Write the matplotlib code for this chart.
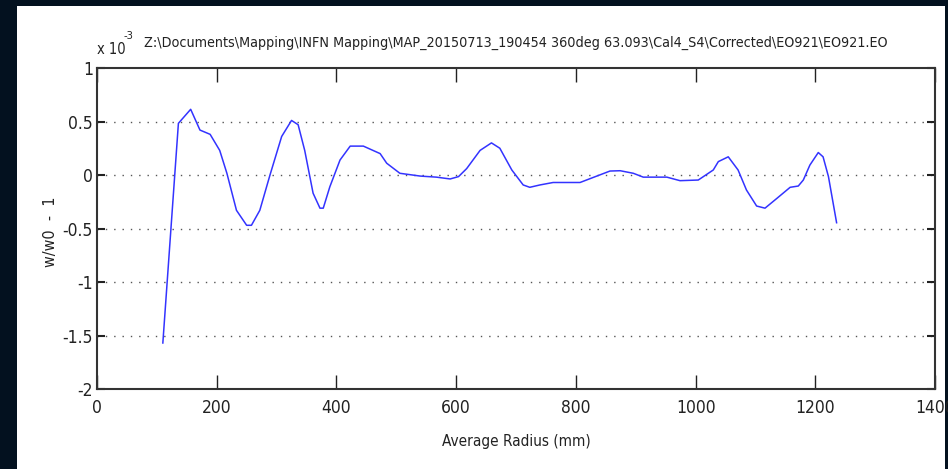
import numpy as np
import matplotlib.pyplot as plt
from matplotlib.patches import Rectangle

# radius (mm) and w/w0 - 1 (x 1e-3)
radius = [110, 136, 156.5, 172, 189, 205, 217, 233, 250, 258, 272, 289, 308.5, 325,
          336, 347, 361, 372.5, 378, 389, 406, 423, 445, 473, 484, 506, 540, 567,
          590, 604, 617.6, 640, 659, 673, 693, 712, 723, 740, 762, 807, 835, 857,
          874, 896, 912.6, 952, 974, 1004.5, 1029.6, 1038, 1054.6, 1071, 1085,
          1102, 1116, 1135.5, 1158, 1171.6, 1180, 1191, 1205, 1213, 1222, 1235.6]
dw = [-1.57, 0.483, 0.614, 0.42, 0.38, 0.23, 0.016, -0.33, -0.47, -0.47, -0.33, 0.0,
      0.36, 0.51, 0.47, 0.23, -0.17, -0.31, -0.31, -0.11, 0.14, 0.27, 0.27, 0.20,
      0.11, 0.016, -0.01, -0.02, -0.037, -0.015, 0.06, 0.23, 0.30, 0.25, 0.047,
      -0.093, -0.115, -0.093, -0.07, -0.07, -0.01, 0.037, 0.04, 0.016, -0.02,
      -0.02, -0.053, -0.047, 0.047, 0.125, 0.17, 0.047, -0.14, -0.29, -0.31,
      -0.22, -0.115, -0.103, -0.047, 0.093, 0.21, 0.17, -0.015, -0.446]

xticks = [0, 200, 400, 600, 800, 1000, 1200, 1400]
yticks = [-2, -1.5, -1, -0.5, 0, 0.5, 1]
ttl = r"Z:\Documents\Mapping\INFN Mapping\MAP_20150713_190454 360deg 63.093\Cal4_S4\Corrected\EO921\EO921.EO"

plt.rcParams['font.family'] = ['DejaVu Sans']
plt.rcParams['font.stretch'] = 'condensed'
ink = '#222222'

fig = plt.figure(figsize=(9.48, 4.69), dpi=100, facecolor='#03111f')
fig.patches.append(Rectangle((17/948, 0), (945-17)/948, 1 - 6/469,
                             transform=fig.transFigure, facecolor='white',
                             edgecolor='none', zorder=-10))

ax = fig.add_axes([97/948, 1 - 389/469, (935-97)/948, (389-68)/469])
ax.set_zorder(5)
ax.plot(radius, dw, color='#3333ff', lw=1.1)

ax.set_xlim(0, 1400)
ax.set_ylim(-2, 1)
ax.set_xticks(xticks)
ax.set_yticks(yticks)
ax.set_xticklabels([str(t) for t in xticks])
ax.set_yticklabels(['-2', '-1.5', '-1', '-0.5', '0', '0.5', '1'])
ax.tick_params(axis='x', direction='in', length=10, width=1, top=True,
               labelsize=12.5, pad=7, colors=ink)
ax.tick_params(axis='y', direction='in', length=6, width=1.5, right=True,
               labelsize=12.5, pad=3, colors=ink)
for s in ax.spines.values():
    s.set_color('#333333')
    s.set_linewidth(1.5)

for y in yticks[1:-1]:
    ax.axhline(y, color='#555555', lw=1, ls=(0, (1, 5)), zorder=0)

ax.set_title(ttl, fontsize=10.3, pad=15, color=ink)
ax.text(0.0, 1.035, 'x 10', transform=ax.transAxes, fontsize=10.5, color=ink,
        ha='left', va='bottom')
ax.text(0.032, 1.085, '-3', transform=ax.transAxes, fontsize=8, color=ink,
        ha='left', va='bottom')
ax.set_xlabel('Average Radius (mm)', fontsize=11, color=ink)
ax.xaxis.set_label_coords(0.5, -0.14)
ax.set_ylabel('w/w0  -  1', fontsize=11.5, color=ink)
ax.yaxis.set_label_coords(-0.047, 0.49)

fig.savefig('out.png', dpi=100, facecolor=fig.get_facecolor())
